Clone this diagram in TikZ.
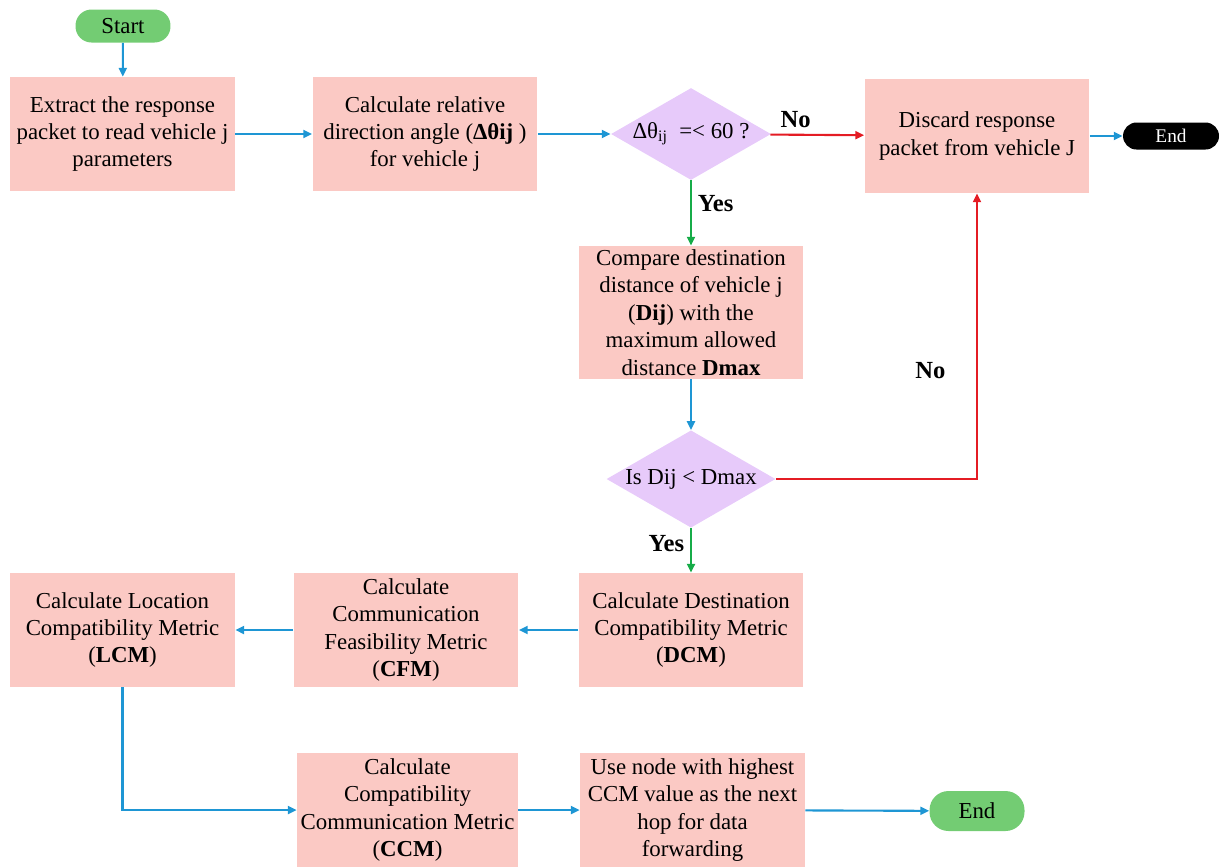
\documentclass[tikz,border=0pt]{standalone}
\usepackage{fontspec}
\setmainfont{Liberation Serif}
\usetikzlibrary{arrows.meta,shapes.geometric,positioning}
\definecolor{boxpink}{RGB}{251,201,196}
\definecolor{diamlav}{RGB}{231,202,250}
\definecolor{termgreen}{RGB}{115,204,115}
\definecolor{arrblue}{RGB}{30,150,212}
\definecolor{arrred}{RGB}{228,28,36}
\definecolor{arrgreen}{RGB}{22,172,72}
\tikzset{
  procbox/.style={rectangle, fill=boxpink, draw=none, align=center, inner sep=1pt,
    minimum width=4.5cm, minimum height=2.28cm, font=\fontsize{13}{15.6}\selectfont},
  decbox/.style={diamond, fill=diamlav, draw=none, inner sep=0pt, aspect=1.7,
    minimum width=3.2cm, minimum height=1.84cm, font=\fontsize{13}{15.6}\selectfont},
  greenterm/.style={rectangle, rounded corners=0.32cm, fill=termgreen, draw=none,
    minimum width=1.9cm, minimum height=0.66cm, font=\fontsize{13}{15.6}\selectfont},
  blackterm/.style={rectangle, rounded corners=0.27cm, fill=black, text=white, draw=none,
    minimum width=1.92cm, minimum height=0.54cm, font=\fontsize{11}{13}\selectfont},
  flowarr/.style={line width=1.2pt, -{Triangle[length=5pt,width=4.5pt]}},
  bluearr/.style={flowarr, draw=arrblue},
  redarr/.style={flowarr, draw=arrred},
  greenarr/.style={flowarr, draw=arrgreen},
  lbl/.style={font=\bfseries\fontsize{14}{16}\selectfont, text=black}
}
\begin{document}
\begin{tikzpicture}[x=0.02cm, y=-0.02cm]
\useasboundingbox (0,0) rectangle (1229,867);

\node[greenterm] (start) at (123,26) {Start};
\node[procbox] (b1) at (122.5,134) {Extract the response\\packet to read vehicle j\\parameters};
\node[procbox] (b2) at (425,134) {Calculate relative\\direction angle (\textbf{Δθij} )\\for vehicle j};
\node[decbox] (d1) at (691,134) {Δθ\textsubscript{ij}\ \ =< 60 ?};
\node[procbox] (disc) at (977,136) {Discard response\\packet from vehicle J};
\node[blackterm] (end1) at (1171,136) {End};
\node[procbox, minimum height=2.66cm] (cmp) at (691,312.5) {Compare destination\\distance of vehicle j\\(\textbf{Dij}) with the\\maximum allowed\\distance \textbf{Dmax}};
\node[decbox, minimum width=3.38cm] (d2) at (691,479) {Is Dij < Dmax};
\node[procbox] (dcm) at (691,630) {Calculate Destination\\Compatibility Metric\\(\textbf{DCM})};
\node[procbox] (cfm) at (406,630) {Calculate\\Communication\\Feasibility Metric\\(\textbf{CFM})};
\node[procbox] (lcm) at (122.5,630) {Calculate Location\\Compatibility Metric\\(\textbf{LCM})};
\node[procbox, minimum width=4.42cm] (ccm) at (407.5,810) {Calculate\\Compatibility\\Communication Metric\\(\textbf{CCM})};
\node[procbox] (use) at (692.5,810) {Use node with highest\\CCM value as the next\\hop for data\\forwarding};
\node[greenterm, minimum height=0.8cm, rounded corners=0.38cm] (end2) at (977,811) {End};

\draw[bluearr] (start) -- (b1);
\draw[bluearr] (b1) -- (b2);
\draw[bluearr] (b2) -- (d1);
\draw[redarr] (d1) -- node[lbl, above, pos=0.27] {No} (disc);
\draw[bluearr] (disc) -- (end1);
\draw[greenarr] (d1) -- node[lbl, right, pos=0.35] {Yes} (cmp);
\draw[bluearr] (cmp) -- (d2);
\draw[redarr] (d2.east) -| node[lbl, left, pos=0.69, xshift=-14pt] {No} (disc.south);
\draw[greenarr] (d2) -- node[lbl, left, pos=0.35] {Yes} (dcm);
\draw[bluearr] (dcm) -- (cfm);
\draw[bluearr] (cfm) -- (lcm);
\draw[bluearr] (lcm.south) |- (ccm.west);
\draw[bluearr] (ccm) -- (use);
\draw[bluearr] (use) -- (end2);
\end{tikzpicture}
\end{document}
